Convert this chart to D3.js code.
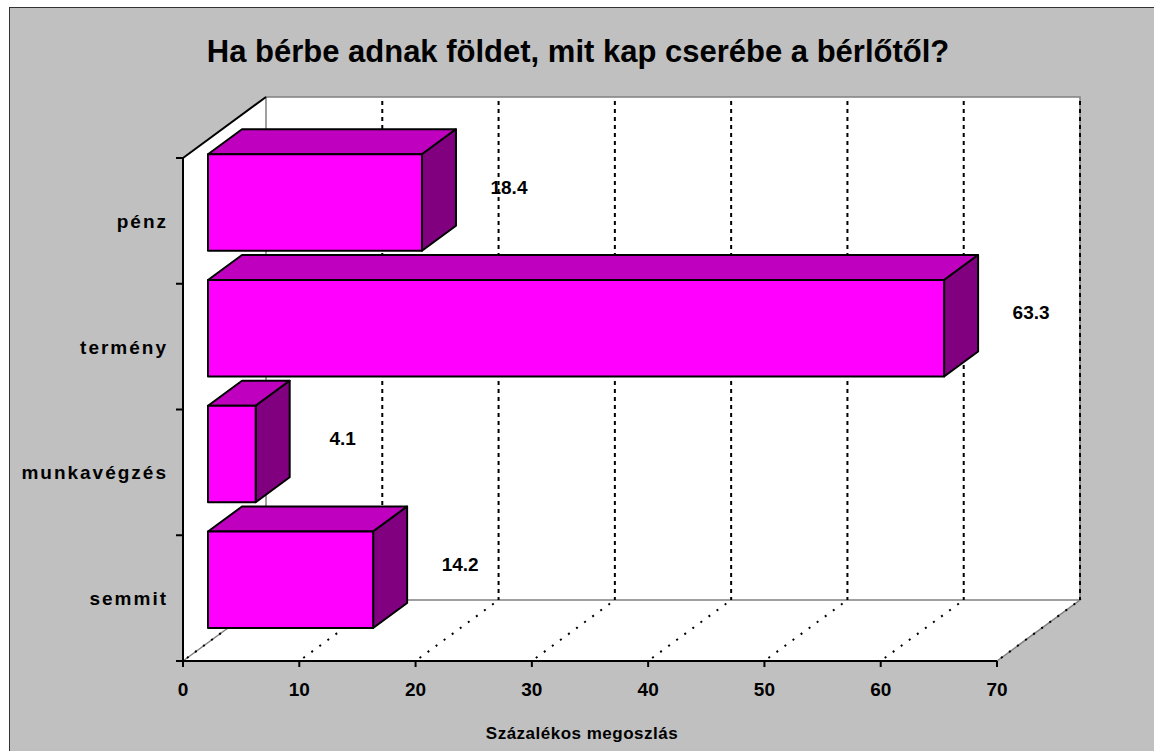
<!DOCTYPE html>
<html>
<head>
<meta charset="utf-8">
<script src="https://cdn.jsdelivr.net/npm/d3@7"></script>
<style>
  body { margin: 0; background: #fff; }
  text { font-family: "Liberation Sans", Arial, sans-serif; font-weight: bold; fill: #000; }
</style>
</head>
<body>
<div id="chart"></div>
<script>
const WIDTH = 1154;
const HEIGHT = 751;

// data
const categories = ["pénz", "termény", "munkavégzés", "semmit"];
const values = [18.4, 63.3, 4.1, 14.2];
const xTicks = [0, 10, 20, 30, 40, 50, 60, 70];
const chartTitle = "Ha bérbe adnak földet, mit kap cserébe a bérlőtől?";
const xTitle = "Százalékos megoszlás";

// 3d look: offset of the back wall and of the bars inside the depth
const DEPTH = { dx: 83, dy: -61 };
const BAR_FRONT = 25 / 83, BAR_DEPTH = 34 / 83;
const COLORS = { front: "#ff00ff", top: "#bf00bf", side: "#800080" };

var x = d3.scaleLinear()
    .domain([0, 70])
    .range([183, 997]);

var y = d3.scaleBand()
    .domain(categories)
    .range([158, 661])
    .paddingInner(0.233)
    .paddingOuter(0.1165);

var yTop = 158, yBottom = 661;

const svg = d3.select("#chart")
    .append("svg")
    .attr("width", WIDTH)
    .attr("height", HEIGHT);

// chart area
svg.append("rect")
    .attr("x", 9.5).attr("y", 7.5)
    .attr("width", 1160).attr("height", 760)
    .attr("fill", "#c0c0c0")
    .attr("stroke", "#333")
    .attr("stroke-width", 1);

svg.append("text")
    .attr("x", 578).attr("y", 62)
    .attr("text-anchor", "middle")
    .style("font-size", "31px")
    .text(chartTitle);

const pt = (px, py) => px + "," + py;
const x0 = x(0), x1 = x(70);

// walls
var walls = svg.append("g");
walls.append("polygon") // back wall
    .attr("points", [pt(x0 + DEPTH.dx, yTop + DEPTH.dy), pt(x1 + DEPTH.dx, yTop + DEPTH.dy),
                     pt(x1 + DEPTH.dx, yBottom + DEPTH.dy), pt(x0 + DEPTH.dx, yBottom + DEPTH.dy)].join(" "))
    .attr("fill", "#fff");
walls.append("polygon") // left wall
    .attr("points", [pt(x0, yTop), pt(x0 + DEPTH.dx, yTop + DEPTH.dy),
                     pt(x0 + DEPTH.dx, yBottom + DEPTH.dy), pt(x0, yBottom)].join(" "))
    .attr("fill", "#fff");
walls.append("polygon") // floor
    .attr("points", [pt(x0, yBottom), pt(x0 + DEPTH.dx, yBottom + DEPTH.dy),
                     pt(x1 + DEPTH.dx, yBottom + DEPTH.dy), pt(x1, yBottom)].join(" "))
    .attr("fill", "#fff");

// grey wall edges
walls.append("path")
    .attr("d", "M" + pt(x0, yBottom) + "L" + pt(x0 + DEPTH.dx, yBottom + DEPTH.dy) +
               "L" + pt(x1 + DEPTH.dx, yBottom + DEPTH.dy) + "L" + pt(x1, yBottom))
    .attr("fill", "none").attr("stroke", "#808080").attr("stroke-width", 1.5);
walls.append("path")
    .attr("d", "M" + pt(x0 + DEPTH.dx, yBottom + DEPTH.dy) + "L" + pt(x0 + DEPTH.dx, yTop + DEPTH.dy) +
               "L" + pt(x1 + DEPTH.dx, yTop + DEPTH.dy) + "L" + pt(x1 + DEPTH.dx, yBottom + DEPTH.dy))
    .attr("fill", "none").attr("stroke", "#808080").attr("stroke-width", 1.5);

// gridlines: dashed on the back wall, dotted on the floor
svg.append("g").selectAll("line")
    .data(xTicks.filter(d => d > 0))
    .enter().append("line")
    .attr("x1", d => x(d) + DEPTH.dx).attr("x2", d => x(d) + DEPTH.dx)
    .attr("y1", yTop + DEPTH.dy + 4).attr("y2", yBottom + DEPTH.dy)
    .attr("stroke", "#000").attr("stroke-width", 2)
    .attr("stroke-dasharray", "4,4");

svg.append("g").selectAll("line")
    .data(xTicks)
    .enter().append("line")
    .attr("x1", d => x(d) + 4).attr("y1", yBottom - 3)
    .attr("x2", d => x(d) + DEPTH.dx).attr("y2", yBottom + DEPTH.dy)
    .attr("stroke", "#000").attr("stroke-width", 2)
    .attr("stroke-dasharray", "2,8");

// front axes
var axes = svg.append("g").attr("stroke", "#000").attr("stroke-width", 2);
axes.append("line")
    .attr("x1", x0).attr("y1", yBottom).attr("x2", x1).attr("y2", yBottom);
axes.append("line")
    .attr("x1", x0).attr("y1", yTop).attr("x2", x0).attr("y2", yBottom);
axes.append("line")
    .attr("x1", x0).attr("y1", yTop).attr("x2", x0 + DEPTH.dx).attr("y2", yTop + DEPTH.dy);

axes.selectAll(".xtick")
    .data(xTicks)
    .enter().append("line")
    .attr("class", "xtick")
    .attr("x1", d => x(d)).attr("x2", d => x(d))
    .attr("y1", yBottom).attr("y2", yBottom + 6);

var catEdges = categories.map(c => y(c) - y.step() * y.paddingOuter());
catEdges.push(yBottom);
axes.selectAll(".ytick")
    .data(catEdges)
    .enter().append("line")
    .attr("class", "ytick")
    .attr("x1", x0 - 7).attr("x2", x0)
    .attr("y1", d => d).attr("y2", d => d);

svg.append("g").selectAll("text")
    .data(xTicks)
    .enter().append("text")
    .attr("x", d => x(d)).attr("y", yBottom + 35)
    .attr("text-anchor", "middle")
    .style("font-size", "19px")
    .text(d => d);

svg.append("g").selectAll("text")
    .data(categories)
    .enter().append("text")
    .attr("x", 168).attr("y", d => y(d) + y.bandwidth() / 2 + 7)
    .attr("text-anchor", "end")
    .style("font-size", "19px")
    .style("letter-spacing", "2px")
    .text(d => d);

svg.append("text")
    .attr("x", 582).attr("y", 739)
    .attr("text-anchor", "middle")
    .style("font-size", "17px")
    .style("letter-spacing", "0.5px")
    .text(xTitle);

// bars as boxes
const fdx = DEPTH.dx * BAR_FRONT, fdy = DEPTH.dy * BAR_FRONT;
const bdx = DEPTH.dx * BAR_DEPTH, bdy = DEPTH.dy * BAR_DEPTH;
const bars = categories.map((c, i) => ({ cat: c, value: values[i] }));

var bar = svg.append("g").selectAll("g")
    .data(bars)
    .enter().append("g")
    .attr("stroke", "#000").attr("stroke-width", 2).attr("stroke-linejoin", "round");

bar.append("polygon") // top
    .attr("points", d => {
        var l = x0 + fdx, r = x(d.value) + fdx, t = y(d.cat) + fdy;
        return [pt(l, t), pt(l + bdx, t + bdy), pt(r + bdx, t + bdy), pt(r, t)].join(" ");
    })
    .attr("fill", COLORS.top);
bar.append("polygon") // side
    .attr("points", d => {
        var r = x(d.value) + fdx, t = y(d.cat) + fdy, b = t + y.bandwidth();
        return [pt(r, t), pt(r + bdx, t + bdy), pt(r + bdx, b + bdy), pt(r, b)].join(" ");
    })
    .attr("fill", COLORS.side);
bar.append("rect") // front
    .attr("x", x0 + fdx)
    .attr("y", d => y(d.cat) + fdy)
    .attr("width", d => x(d.value) - x0)
    .attr("height", y.bandwidth())
    .attr("fill", COLORS.front);

svg.append("g").selectAll("text")
    .data(bars)
    .enter().append("text")
    .attr("x", d => x(d.value) + 112)
    .attr("y", d => y(d.cat) + y.bandwidth() / 2 - 34)
    .attr("dy", "0.35em")
    .attr("text-anchor", "middle")
    .style("font-size", "19px")
    .text(d => d.value);
</script>
</body>
</html>
